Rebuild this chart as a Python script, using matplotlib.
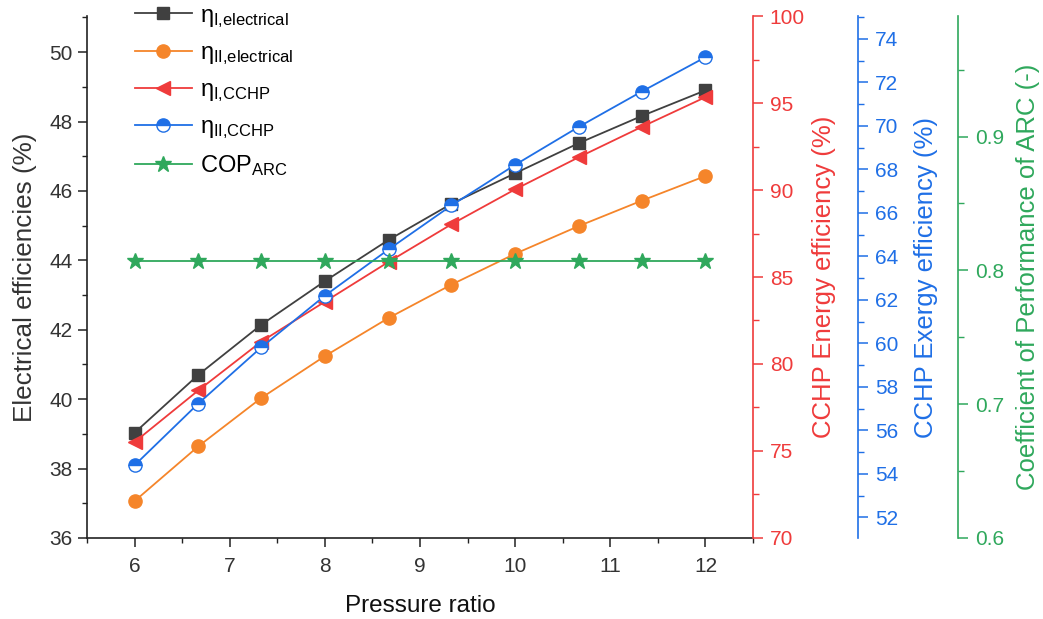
import matplotlib
matplotlib.use("Agg")
import matplotlib.pyplot as plt
from matplotlib.ticker import MultipleLocator

plt.rcParams['font.family'] = ['Liberation Sans', 'DejaVu Sans']
plt.rcParams['mathtext.fontset'] = 'custom'
plt.rcParams['mathtext.rm'] = 'Liberation Sans'
plt.rcParams['mathtext.it'] = 'Liberation Sans'
plt.rcParams['mathtext.bf'] = 'Liberation Sans:bold'

pressure_ratio = [6, 6.67, 7.33, 8, 8.67, 9.33, 10, 10.67, 11.33, 12]
eta_I_elec = [39.03, 40.70, 42.14, 43.40, 44.59, 45.63, 46.51, 47.38, 48.16, 48.90]
eta_II_elec = [37.06, 38.64, 40.03, 41.24, 42.34, 43.30, 44.19, 44.99, 45.72, 46.43]
eta_I_cchp = [75.51, 78.48, 81.28, 83.58, 85.87, 88.03, 90.04, 91.89, 93.63, 95.34]
eta_II_cchp = [54.39, 57.23, 59.81, 62.19, 64.32, 66.34, 68.21, 69.96, 71.58, 73.16]
cop_arc = [0.807] * 10

labels = ['η$_{\\text{I,electrical}}$', 'η$_{\\text{II,electrical}}$',
          'η$_{\\text{I,CCHP}}$', 'η$_{\\text{II,CCHP}}$', 'COP$_{\\text{ARC}}$']

c_black = '#404040'
c_orange = '#F5852A'
c_red = '#EF3B3B'
c_blue = '#1F6FE6'
c_green = '#2FA85C'

fig = plt.figure(figsize=(10.43, 6.19), dpi=100)
ax = fig.add_axes([0.0834, 0.131, 0.6386, 0.843])
ax_r = ax.twinx()
ax_b = ax.twinx()
ax_g = ax.twinx()

lw = 1.3
h1, = ax.plot(pressure_ratio, eta_I_elec, color=c_black, marker='s', ms=8.5, lw=lw, label=labels[0])
h2, = ax.plot(pressure_ratio, eta_II_elec, color=c_orange, marker='o', ms=9.5, lw=lw, label=labels[1])
h3, = ax_r.plot(pressure_ratio, eta_I_cchp, color=c_red, marker='<', ms=10, lw=lw, label=labels[2])
h4, = ax_b.plot(pressure_ratio, eta_II_cchp, color=c_blue, marker='o', ms=9.5, lw=lw,
                fillstyle='top', markerfacecoloralt='white', markeredgecolor=c_blue, label=labels[3])
h5, = ax_g.plot(pressure_ratio, cop_arc, color=c_green, marker='*', ms=12, lw=lw, label=labels[4])

ax.set_xlim(5.5, 12.5)
ax.set_ylim(36, 51.04)
ax_r.set_ylim(70, 100)
ax_b.set_ylim(51.05, 75.05)
ax_g.set_ylim(0.6, 0.99)

ax.xaxis.set_major_locator(MultipleLocator(1))
ax.xaxis.set_minor_locator(MultipleLocator(0.5))
ax.yaxis.set_major_locator(MultipleLocator(2))
ax.yaxis.set_minor_locator(MultipleLocator(1))
ax_r.yaxis.set_major_locator(MultipleLocator(5))
ax_r.yaxis.set_minor_locator(MultipleLocator(2.5))
ax_b.yaxis.set_major_locator(MultipleLocator(2))
ax_b.yaxis.set_minor_locator(MultipleLocator(1))
ax_g.yaxis.set_major_locator(MultipleLocator(0.1))
ax_g.yaxis.set_minor_locator(MultipleLocator(0.05))

fs_tick = 15

ax.spines['top'].set_visible(False)
ax.spines['right'].set_visible(False)
for a in (ax_r, ax_b, ax_g):
    a.spines['top'].set_visible(False)
    a.spines['left'].set_visible(False)
    a.spines['bottom'].set_visible(False)
ax_b.spines['right'].set_position(('axes', 1.158))
ax_g.spines['right'].set_position(('axes', 1.308))

for sp in ('left', 'bottom'):
    ax.spines[sp].set_color('#222222')
    ax.spines[sp].set_linewidth(1.2)
ax.tick_params(axis='both', which='major', direction='out', length=6.5, width=1.1, labelsize=fs_tick,
               colors='#222222', labelcolor='#333333', pad=4)
ax.tick_params(axis='x', which='major', pad=7)
ax.tick_params(axis='both', which='minor', direction='out', length=3.5, width=1.0, colors='#222222')
ax.set_xlabel('Pressure ratio', fontsize=17.5, color='#111111', labelpad=14)
ax.set_ylabel('Electrical efficiencies (%)', fontsize=18.8, color='#333333', labelpad=9)

for a, c, lab, pad in ((ax_r, c_red, 'CCHP Energy efficiency (%)', 5.5),
                       (ax_b, c_blue, 'CCHP Exergy efficiency (%)', 11),
                       (ax_g, c_green, 'Coefficient of Performance of ARC (-)', 8.5)):
    a.spines['right'].set_color(c)
    a.spines['right'].set_linewidth(1.2)
    a.tick_params(axis='y', which='major', direction='out', length=7, width=1.1, colors=c,
                  labelsize=fs_tick, pad=5)
    a.tick_params(axis='y', which='minor', direction='out', length=4, width=1.0, colors=c)
    a.set_ylabel(lab, fontsize=18.5, color=c, labelpad=pad)

ax_g.legend(handles=[h1, h2, h3, h4, h5], loc='upper left', bbox_to_anchor=(0.058, 1.04),
            frameon=False, fontsize=17, handlelength=2.4, handletextpad=0.35, labelspacing=0.52,
            borderaxespad=0)

fig.savefig('out.png', dpi=100)
